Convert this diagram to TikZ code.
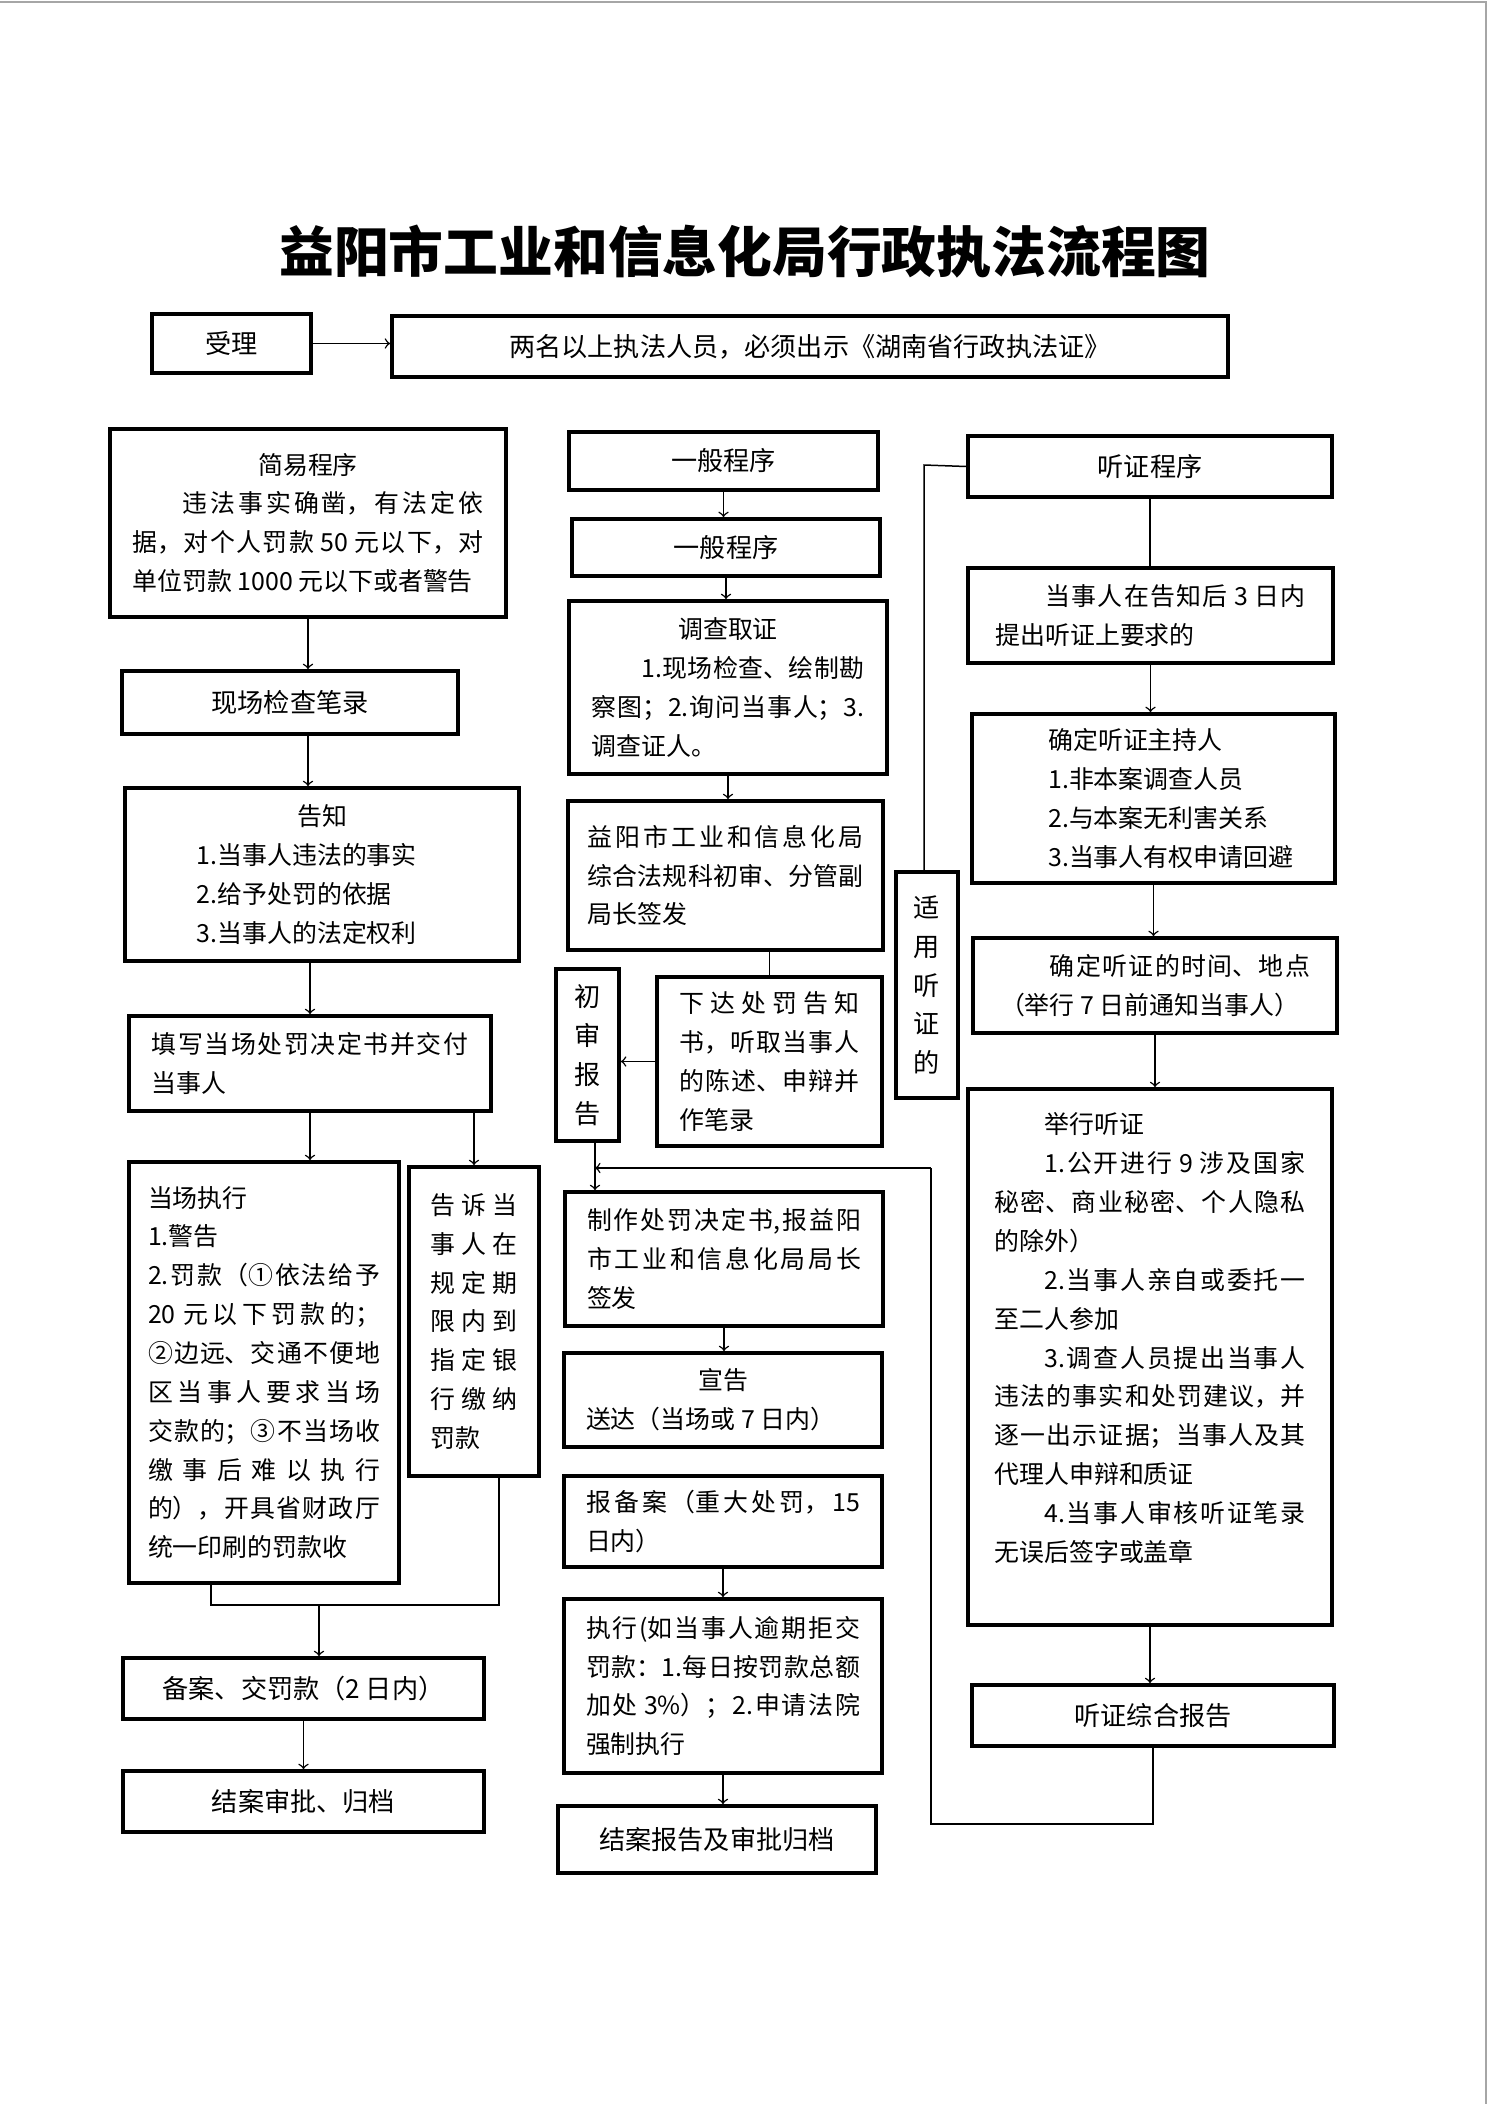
\documentclass[tikz,border=0pt]{standalone}
\usepackage{fontspec}
\setmainfont{Noto Sans CJK SC}
\usetikzlibrary{positioning,arrows}
\XeTeXlinebreaklocale "zh"
\XeTeXlinebreakskip=0pt plus 2pt minus 0.4pt
\tolerance=10000
\hbadness=10000
\hfuzz=3pt

\begin{document}
\begin{tikzpicture}[x=0.14113mm, y=-0.14113mm,
    base/.style={rectangle, draw, line width=1.5pt, inner sep=0pt,
                 font=\fontsize{10pt}{15.6pt}\selectfont},
    sz/.style 2 args={minimum width={#1*0.14113mm}, minimum height={#2*0.14113mm}},
    box/.style={base, font=\fontsize{10.5pt}{15.6pt}\selectfont},
    stack/.style={box, align=center},
    para/.style={base, text width=#1, align=justify},
    arrow/.style={->, line width=0.6pt},
    link/.style={line width=0.6pt}]

    \useasboundingbox (0,0) rectangle (1488,2104);
    \draw[gray!70, line width=0.6pt] (0,2) -- (1486,2) -- (1486,2104);

    \node[font=\fontsize{22pt}{26pt}\selectfont\bfseries] (title) at (745,252) {益阳市工业和信息化局行政执法流程图};

    \node[box, sz={159}{59}] (shouli) at (231.5,343.5) {受理};
    \node[box, sz={836}{61}] (liangming) at (810,346.5) {两名以上执法人员，必须出示《湖南省行政执法证》};

    % simple procedure
    \node[para=49.54mm, sz={396}{188}] (jianyi) at (308,523) {\parfillskip=0pt \hfill 简易程序\hfill\null\newline
        \hspace*{2em}违法事实确凿，有法定依\linebreak
        据，对个人罚款 50 元以下，对\linebreak
        单位罚款 1000 元以下或者警告};
    \node[box, sz={336}{63}] (xianchang) at (290,702.5) {现场检查笔录};
    \node[para=49.4mm, sz={394}{173}] (gaozhi) at (322,874.5) {\hfill 告知\hfill\null\newline
        \hspace*{2em}1.当事人违法的事实\newline
        \hspace*{2em}2.给予处罚的依据\newline
        \hspace*{2em}3.当事人的法定权利};
    \node[para=44.6mm, sz={362}{95}] (tianxie) at (310,1063.5) {填写当场处罚决定书并交付\linebreak 当事人};
    \node[para=32.74mm, sz={270}{421}] (dangchang) at (264,1372.5) {\parfillskip=0pt 当场执行\newline
        1.警告\newline
        2.罚款（①依法给予\linebreak
        20 元以下罚款的；\linebreak
        ②边远、交通不便地\linebreak
        区当事人要求当场\linebreak
        交款的；③不当场收\linebreak
        缴事后难以执行\linebreak
        的），开具省财政厅\linebreak
        统一印刷的罚款收};
    \node[para=12.14mm, sz={130}{309}] (gaosu) at (474,1321.5) {告诉当\linebreak 事人在\linebreak 规定期\linebreak 限内到\linebreak 指定银\linebreak 行缴纳\linebreak 罚款};
    \node[box, sz={361}{61}] (beian) at (303.5,1688.5) {备案、交罚款（2 日内）};
    \node[box, sz={361}{61}] (jiean) at (303.5,1801.5) {结案审批、归档};

    % general procedure
    \node[box, sz={309}{58}] (yiban) at (723.5,461) {一般程序};
    \node[box, sz={308}{57}] (yibanb) at (726,547.5) {一般程序};
    \node[para=38.53mm, sz={318}{173}] (diaocha) at (728,687.5) {\hfill 调查取证\hfill\null\newline
        \hspace*{2em}1.现场检查、绘制勘\linebreak
        察图；2.询问当事人；3.\linebreak
        调查证人。};
    \node[para=38.95mm, sz={315}{149}] (yiyang) at (725.5,875.5) {益阳市工业和信息化局\linebreak 综合法规科初审、分管副\linebreak 局长签发};
    \node[para=25.4mm, sz={225}{169}] (xiada) at (769.5,1061.5) {下达处罚告知\linebreak 书，听取当事人\linebreak 的陈述、申辩并\linebreak 作笔录};
    \node[stack, sz={63}{172}] (chushen) at (587.5,1055) {初\\审\\报\\告};
    \node[para=38.67mm, sz={318}{134}] (zhizuo) at (724,1259) {制作处罚决定书,报益阳\linebreak 市工业和信息化局局长\linebreak 签发};
    \node[para=38.67mm, sz={318}{94}] (xuangao) at (723,1400) {\hfill 宣告\hfill\null\newline 送达（当场或 7 日内）};
    \node[para=38.67mm, sz={318}{91}] (baobei) at (723,1521.5) {报备案（重大处罚，15\linebreak 日内）};
    \node[para=38.67mm, sz={318}{174}] (zhixing) at (723,1686) {执行(如当事人逾期拒交\linebreak 罚款：1.每日按罚款总额\linebreak 加处 3\%）；2.申请法院\linebreak 强制执行};
    \node[box, sz={318}{67}] (jieanbg) at (717,1839.5) {结案报告及审批归档};

    % hearing procedure
    \node[stack, sz={62}{226}] (shiyong) at (927,985) {适\\用\\听\\证\\的};
    \node[box, sz={364}{61}] (tzcx) at (1150,466.5) {听证程序};
    \node[para=43.75mm, sz={365}{95}] (tiaojian) at (1150.5,615.5) {\hspace*{2em}当事人在告知后 3 日内\linebreak 提出听证上要求的};
    \node[para=43.75mm, sz={363}{169}] (zhuchi) at (1153.5,798.5) {\hspace*{2em}确定听证主持人\newline
        \hspace*{2em}1.非本案调查人员\newline
        \hspace*{2em}2.与本案无利害关系\newline
        \hspace*{2em}3.当事人有权申请回避};
    \node[para=43.75mm, sz={364}{95}] (shijian) at (1155,985.5) {\hspace*{2em}确定听证的时间、地点\linebreak （举行 7 日前通知当事人）};
    \node[para=43.89mm, sz={364}{536}] (juxing) at (1150,1357) {\hspace*{2em}举行听证\newline
        \hspace*{2em}1.公开进行 9 涉及国家\linebreak
        秘密、商业秘密、个人隐私\linebreak
        的除外）\newline
        \hspace*{2em}2.当事人亲自或委托一\linebreak
        至二人参加\newline
        \hspace*{2em}3.调查人员提出当事人\linebreak
        违法的事实和处罚建议，并\linebreak
        逐一出示证据；当事人及其\linebreak
        代理人申辩和质证\newline
        \hspace*{2em}4.当事人审核听证笔录\linebreak
        无误后签字或盖章\rule[-16pt]{0pt}{0pt}};
    \node[box, sz={362}{61}] (zonghe) at (1153,1715.5) {听证综合报告};

    \coordinate (hl) at (211,1605);
    \coordinate (hr) at (499,1605);
    \coordinate (hm) at (319,1605);
    \coordinate (fb) at (595,1168);
    \coordinate (tl) at (924,465);
    \coordinate (bl) at (931,1824);

    \draw[arrow] (shouli.east) -- (shouli.east -| liangming.west);

    \draw[arrow] (jianyi.south) -- (jianyi.south |- xianchang.north);
    \draw[arrow] (xianchang.south -| jianyi.south) -- (gaozhi.north -| jianyi.south);
    \draw[arrow] (gaozhi.south -| tianxie.north) -- (tianxie.north);
    \draw[arrow] (tianxie.south) -- (tianxie.south |- dangchang.north);
    \draw[arrow] (tianxie.south -| gaosu.north) -- (gaosu.north);
    \draw[link] (dangchang.south -| hl) -- (hl) -- (hr) -- (gaosu.south -| hr);
    \draw[arrow] (hm) -- (hm |- beian.north);
    \draw[arrow] (beian.south) -- (jiean.north);

    \draw[arrow] (yiban.south) -- (yiban.south |- yibanb.north);
    \draw[arrow] (yibanb.south) -- (yibanb.south |- diaocha.north);
    \draw[arrow] (diaocha.south) -- (diaocha.south |- yiyang.north);
    \draw[link] (yiyang.south -| xiada.north) -- (xiada.north);
    \draw[arrow] (xiada.west) -- (xiada.west -| chushen.east);
    \draw[arrow] (chushen.south -| fb) -- (zhizuo.north -| fb);
    \draw[arrow] (zhizuo.south) -- (zhizuo.south |- xuangao.north);
    \draw[arrow] (baobei.south) -- (baobei.south |- zhixing.north);
    \draw[arrow] (zhixing.south) -- (zhixing.south |- jieanbg.north);

    \draw[link] (tzcx.west) -- (tl) -- (tl |- shiyong.north);
    \draw[link] (tzcx.south) -- (tzcx.south |- tiaojian.north);
    \draw[arrow] (tiaojian.south) -- (tiaojian.south |- zhuchi.north);
    \draw[arrow] (zhuchi.south) -- (zhuchi.south |- shijian.north);
    \draw[arrow] (shijian.south) -- (shijian.south |- juxing.north);
    \draw[arrow] (juxing.south) -- (juxing.south |- zonghe.north);
    \draw[link] (zonghe.south) |- (bl) -- (bl |- fb);
    \draw[arrow] (bl |- fb) -- (fb);
\end{tikzpicture}
\end{document}
